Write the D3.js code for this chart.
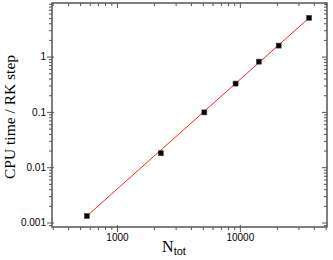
<!DOCTYPE html>
<html><head><meta charset="utf-8">
<script src="https://cdn.jsdelivr.net/npm/d3@7"></script>
<style>body{margin:0;background:#fff}svg{display:block}</style>
</head><body>
<script>
const nTot = [569, 2274, 5140, 9230, 14300, 20700, 36600];
const cpuTime = [0.00131, 0.0179, 0.098, 0.325, 0.81, 1.58, 5.0];
const fitX = [569, 36600];
const fitY = [0.00131, 5.0];
const xTickLabels = [1000, 10000];
const yTickLabels = [0.001, 0.01, 0.1, 1];
const xDomain = [296, 51200];
const yDomain = [0.00083, 9.3];

const W = 333, H = 260;
const m = {left: 52, right: 6, top: 3, bottom: 33};
const svg = d3.select("body").append("svg").attr("width", W).attr("height", H);
const x = d3.scaleLog().domain(xDomain).range([m.left, W - m.right]);
const y = d3.scaleLog().domain(yDomain).range([H - m.bottom, m.top]);

function minors(lo, hi){
  const out = [];
  for (let p = Math.floor(Math.log10(lo)); p <= Math.ceil(Math.log10(hi)); p++)
    for (let k = 1; k < 10; k++){ const v = k * Math.pow(10, p); if (v >= lo && v <= hi) out.push(v); }
  return out;
}
const xMin = minors(xDomain[0], xDomain[1]);
const yMin = minors(yDomain[0], yDomain[1]);
const isMajor = v => Math.abs(Math.log10(v) - Math.round(Math.log10(v))) < 1e-9;
const axCol = "#555";

function styleAxis(g){
  g.select(".domain").remove();
  g.selectAll(".tick line").attr("stroke", axCol).attr("stroke-width", 1);
  g.selectAll(".tick text").attr("fill", "#000").attr("font-family", "Arial, Liberation Sans, sans-serif").attr("font-size", 10);
}
// bottom
const gB = svg.append("g").attr("transform", `translate(0,${H - m.bottom})`)
  .call(d3.axisBottom(x).tickValues(xMin).tickFormat(d => xTickLabels.includes(d) ? String(d) : "").tickSizeInner(3).tickSizeOuter(0).tickPadding(4));
styleAxis(gB);
gB.selectAll(".tick").filter(d => isMajor(d)).select("line").attr("y1", -2).attr("y2", 5);
// top
const gT = svg.append("g").attr("transform", `translate(0,${m.top})`)
  .call(d3.axisTop(x).tickValues(xMin).tickFormat("").tickSizeInner(-3).tickSizeOuter(0));
styleAxis(gT);
gT.selectAll(".tick").filter(d => isMajor(d)).select("line").attr("y2", 5);
// left
const gL = svg.append("g").attr("transform", `translate(${m.left},0)`)
  .call(d3.axisLeft(y).tickValues(yMin).tickFormat(d => yTickLabels.includes(d) ? String(d) : "").tickSizeInner(3).tickSizeOuter(0).tickPadding(3));
styleAxis(gL);
gL.selectAll(".tick").filter(d => isMajor(d)).select("line").attr("x1", 2).attr("x2", -5);
// right
const gR = svg.append("g").attr("transform", `translate(${W - m.right},0)`)
  .call(d3.axisRight(y).tickValues(yMin).tickFormat("").tickSizeInner(-3).tickSizeOuter(0));
styleAxis(gR);
gR.selectAll(".tick").filter(d => isMajor(d)).select("line").attr("x2", -5);

// frame
svg.append("rect").attr("x", m.left).attr("y", m.top)
  .attr("width", W - m.left - m.right).attr("height", H - m.top - m.bottom)
  .attr("fill", "none").attr("stroke", axCol).attr("stroke-width", 1.5);

// fit line
svg.append("path").datum(d3.zip(fitX, fitY))
  .attr("d", d3.line().x(d => x(d[0])).y(d => y(d[1])))
  .attr("stroke", "#ff2020").attr("stroke-width", 1).attr("fill", "none");

// markers
const s = 5;
svg.append("g").selectAll("rect").data(d3.zip(nTot, cpuTime)).join("rect")
  .attr("x", d => x(d[0]) - s / 2).attr("y", d => y(d[1]) - s / 2)
  .attr("width", s).attr("height", s)
  .attr("fill", "#000").attr("stroke", "#444").attr("stroke-width", 0.6);

// axis titles
const xt = svg.append("text").attr("x", 174).attr("y", 252)
  .attr("text-anchor", "middle").attr("font-family", "Times New Roman, Liberation Serif, serif").attr("font-size", 16).attr("fill", "#000");
xt.append("tspan").text("N");
xt.append("tspan").attr("font-size", 11).attr("dy", 3).attr("font-family", "Liberation Sans, Arial, sans-serif").text("tot");

svg.append("text").attr("transform", `translate(15,117) rotate(-90)`)
  .attr("text-anchor", "middle").attr("font-family", "Times New Roman, Liberation Serif, serif")
  .attr("font-size", 15.5).attr("fill", "#000").text("CPU time / RK step");
</script>
</body></html>
